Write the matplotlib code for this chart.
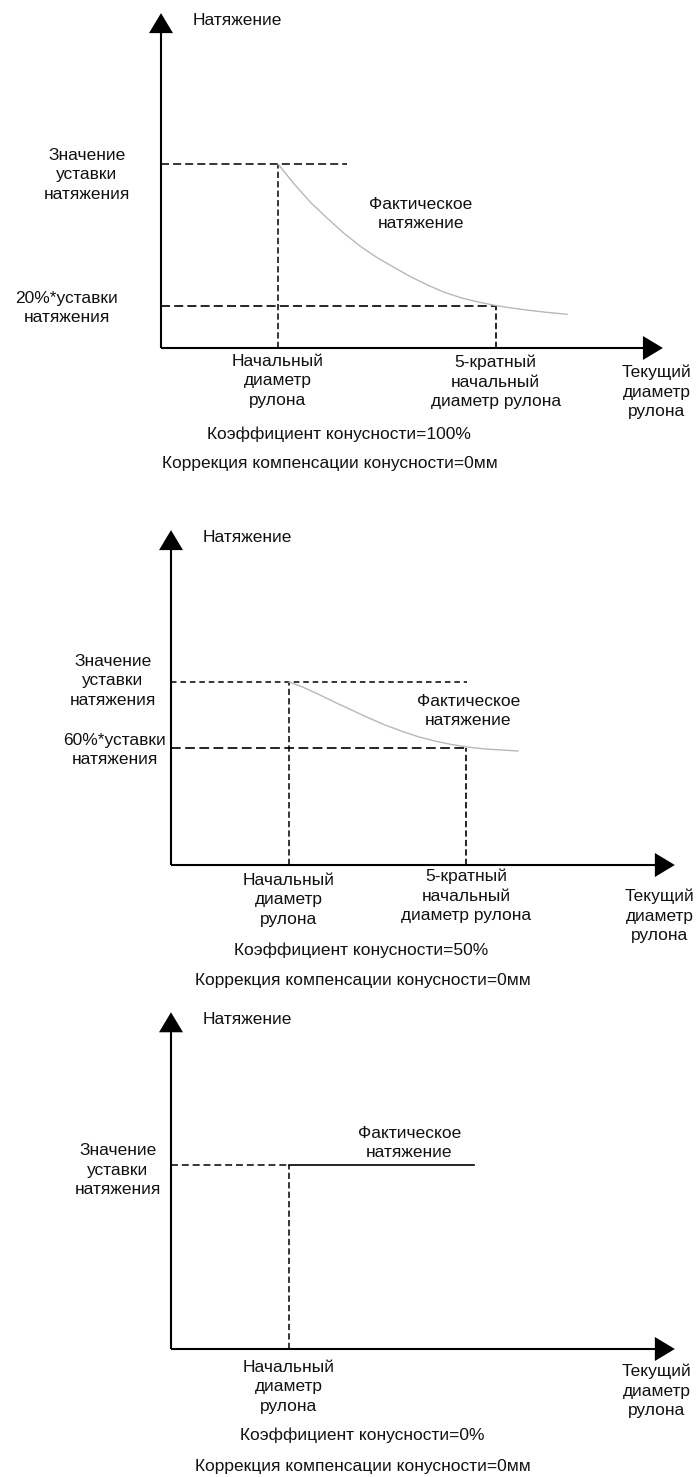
import numpy as np
import matplotlib.pyplot as plt

plt.rcParams['font.family'] = ['Liberation Sans', 'DejaVu Sans']
plt.rcParams['lines.scale_dashes'] = False

W, H, DPI = 696, 1477, 100

# --- data (tension as fraction of setpoint, diameter in units of start diameter) ---
taper_coef = ['100%', '50%', '0%']
comp_mm = ['0мм', '0мм', '0мм']
setpoint = 1.0
d_start = 1.0
low_level = [0.23, 0.64, None]
low_label = ['20%*уставки\nнатяжения', '60%*уставки\nнатяжения', None]
d_5x = [2.86, 2.50, None]

curve1_x = [1.00, 1.14, 1.28, 1.43, 1.57, 1.71, 1.85, 2.00, 2.14, 2.28, 2.42, 2.57,
            2.71, 2.85, 2.99, 3.13, 3.28, 3.47]
curve1_y = [1.00, 0.89, 0.79, 0.70, 0.62, 0.55, 0.49, 0.435, 0.385, 0.342, 0.303, 0.272,
            0.250, 0.232, 0.218, 0.206, 0.195, 0.183]
curve2_x = [1.00, 1.11, 1.25, 1.39, 1.53, 1.67, 1.81, 1.96, 2.10, 2.24, 2.38, 2.52, 2.66, 2.94]
curve2_y = [1.00, 0.974, 0.933, 0.889, 0.847, 0.805, 0.766, 0.730, 0.700, 0.677, 0.658,
            0.644, 0.634, 0.623]
curve3_x = [1.00, 2.57]
curve3_y = [1.00, 1.00]
curves = [(curve1_x, curve1_y), (curve2_x, curve2_y), (curve3_x, curve3_y)]
setpoint_end = [1.59, 2.51, 1.00]

# --- layout: origin (px), px per unit, vertical band (px) ---
panels = [
    dict(ox=161, oy=348, sx=117, sy=184, top=0, bot=490, ytip=1.82, xtip=4.29,
         sp_dash=(5.8, 2.9), low_dash=(6.5, 3.0), vdash=(4.5, 2.3),
         sp_lab=(-74, -11), low_lab=(-94, -2), d0_lab=-33, d5_lab=-34, cur_lab=(-6, -44),
         act=(2.22, 0.73), cap1=(339, 434), cap2=(330, 464)),
    dict(ox=171, oy=865, sx=118, sy=183, top=490, bot=995, ytip=1.83, xtip=4.27,
         sp_dash=(4.0, 2.8), low_dash=(7.0, 3.2), vdash=(4.5, 2.3),
         sp_lab=(-58, 1), low_lab=(-56, -2), d0_lab=-35, d5_lab=-31, cur_lab=(-15, -51),
         act=(2.52, 0.84), cap1=(361, 950), cap2=(363, 981)),
    dict(ox=171, oy=1349, sx=118, sy=184, top=995, bot=H, ytip=1.83, xtip=4.27,
         sp_dash=(5.0, 2.8), low_dash=None, vdash=(4.5, 2.3),
         sp_lab=(-53, -5), low_lab=None, d0_lab=-38, d5_lab=None, cur_lab=(-18, -42),
         act=(2.02, 1.12), cap1=(362, 1435), cap2=(363, 1467)),
]

FS = 12.5
LS = 1.36
TXT = '#111111'
HEAD_L, HEAD_W = 20, 12   # arrow head length / half width in px

fig = plt.figure(figsize=(W / DPI, H / DPI), dpi=DPI)

for i, p in enumerate(panels):
    ax = fig.add_axes([0, 1 - p['bot'] / H, 1, (p['bot'] - p['top']) / H])
    ax.set_xlim(-p['ox'] / p['sx'], (W - p['ox']) / p['sx'])
    ax.set_ylim((p['oy'] - p['bot']) / p['sy'], (p['oy'] - p['top']) / p['sy'])
    ax.set_axis_off()
    hl_y, hw_y = HEAD_L / p['sy'], HEAD_W / p['sx']
    hl_x, hw_x = HEAD_L / p['sx'], HEAD_W / p['sy']

    # axes with arrow heads
    ax.plot([0, 0], [0, p['ytip'] - hl_y], color='black', lw=1.5, solid_capstyle='butt')
    ax.plot([0, p['xtip'] - hl_x], [0, 0], color='black', lw=1.5, solid_capstyle='butt')
    ax.fill([-hw_y, hw_y, 0], [p['ytip'] - hl_y] * 2 + [p['ytip']], color='black', lw=0)
    ax.fill([p['xtip'] - hl_x] * 2 + [p['xtip']], [-hw_x, hw_x, 0], color='black', lw=0)

    # setpoint level and start diameter
    ax.plot([0, setpoint_end[i]], [setpoint, setpoint], color='black', lw=1.1,
            linestyle=(0, p['sp_dash']))
    ax.plot([d_start, d_start], [0, setpoint], color='black', lw=1.1,
            linestyle=(0, p['vdash']))

    # low level and 5x diameter
    if low_level[i] is not None:
        ax.plot([0, d_5x[i]], [low_level[i]] * 2, color='black', lw=1.2,
                linestyle=(0, p['low_dash']))
        ax.plot([d_5x[i]] * 2, [0, low_level[i]], color='black', lw=1.2,
                linestyle=(0, p['vdash']))

    # actual tension
    cx, cy = curves[i]
    if low_level[i] is None:
        ax.plot(cx, cy, color='black', lw=1.2)
    else:
        ax.plot(cx, cy, color='#b8b8b8', lw=1.0, solid_joinstyle='round')

    # labels
    kw = dict(textcoords='offset pixels', fontsize=FS, ha='center', va='center',
              multialignment='center', linespacing=LS, color=TXT)
    ax.annotate('Натяжение', (0, p['ytip']), xytext=(32, -7), **{**kw, 'ha': 'left'})
    ax.annotate('Значение\nуставки\nнатяжения', (0, setpoint), xytext=p['sp_lab'], **kw)
    if low_level[i] is not None:
        ax.annotate(low_label[i], (0, low_level[i]), xytext=p['low_lab'], **kw)
        ax.annotate('5-кратный\nначальный\nдиаметр рулона', (d_5x[i], 0),
                    xytext=(0, p['d5_lab']), **kw)
    ax.annotate('Начальный\nдиаметр\nрулона', (d_start, 0), xytext=(0, p['d0_lab']), **kw)
    ax.annotate('Текущий\nдиаметр\nрулона', (p['xtip'], 0), xytext=p['cur_lab'], **kw)
    ax.text(p['act'][0], p['act'][1], 'Фактическое\nнатяжение', fontsize=FS, ha='center',
            va='center', multialignment='center', linespacing=LS, color=TXT)

    fig.text(p['cap1'][0] / W, 1 - p['cap1'][1] / H, f'Коэффициент конусности={taper_coef[i]}',
             fontsize=FS, ha='center', va='center', color=TXT)
    fig.text(p['cap2'][0] / W, 1 - p['cap2'][1] / H,
             f'Коррекция компенсации конусности={comp_mm[i]}',
             fontsize=FS, ha='center', va='center', color=TXT)

fig.savefig('out.png', dpi=DPI, facecolor='white')
